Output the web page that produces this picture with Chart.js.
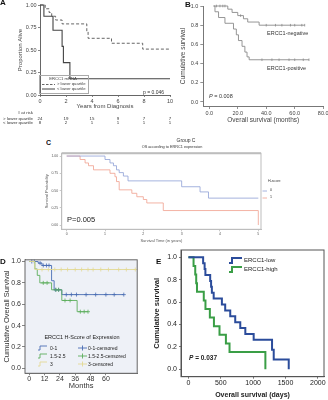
<!DOCTYPE html>
<html lang="en">
<head>
<meta charset="UTF-8"/>
<title>ERCC1 survival panels</title>
<script src="https://cdn.jsdelivr.net/npm/chart.js"></script>
<style>
  body { margin: 0; width: 328px; height: 400px; position: relative; overflow: hidden; background: #fff; font-family: 'Liberation Sans', Arial, sans-serif; color: #222; }
  canvas { position: absolute; }
  .t { position: absolute; white-space: nowrap; line-height: 1; }
  .lab { font-weight: bold; font-size: 8px; color: #111; }
  .mid { transform: translateX(-50%); }
  svg { position: absolute; overflow: visible; }
</style>
</head>
<body>
<canvas id="chartA" width="178" height="126" style="left:0;top:0"></canvas>
<canvas id="chartB" width="156" height="124" style="left:172px;top:0"></canvas>
<canvas id="chartC" width="228" height="93" style="left:40px;top:150px"></canvas>
<canvas id="chartD" width="142" height="135" style="left:0;top:255px"></canvas>
<canvas id="chartE" width="178" height="155" style="left:150px;top:245px"></canvas>

<!-- A -->
<div class="t lab" style="left:0;top:-1px">A</div>
<div class="t" style="left:143px;top:89.5px;font-size:5px;color:#333">p = 0.046</div>
<div style="position:absolute;left:39px;top:75px;width:48px;height:17px;border:1px solid #aaa"></div>
<div class="t mid" style="left:63px;top:77px;font-size:4.2px;color:#444">ERCC1 mRNA</div>
<svg style="left:0;top:0" width="1" height="1"><line x1="42" y1="84.5" x2="55" y2="84.5" stroke="#555" stroke-width="0.9" stroke-dasharray="2.5 1.5"/><line x1="42" y1="89" x2="55" y2="89" stroke="#444" stroke-width="1"/></svg>
<div class="t" style="left:57px;top:82.4px;font-size:4.2px;color:#444">&gt; lower quartile</div>
<div class="t" style="left:57px;top:86.9px;font-size:4.2px;color:#444">&lt; lower quartile</div>

<!-- B -->
<div class="t lab" style="left:185px;top:1px">B</div>
<div class="t" style="left:267px;top:30.5px;font-size:5.5px;color:#333">ERCC1-negative</div>
<div class="t" style="left:267px;top:65.5px;font-size:5.5px;color:#333">ERCC1-positive</div>
<div class="t" style="left:209px;top:94.2px;font-size:5.5px;color:#333"><i>P</i> = 0.008</div>

<!-- C -->
<div class="t lab" style="left:46px;top:138.5px;font-size:7px">C</div>
<div class="t mid" style="left:186px;top:137.5px;font-size:5px;color:#333">Group C</div>
<div class="t mid" style="left:172px;top:146px;font-size:3.8px;color:#333">OS according to ERRC1 expression</div>
<div class="t" style="left:67px;top:216px;font-size:7.5px;color:#222">P=0.005</div>
<div class="t" style="left:268px;top:180.2px;font-size:3.6px;color:#333">H-score</div>
<svg style="left:0;top:0" width="1" height="1"><line x1="262.5" y1="191" x2="267" y2="191" stroke="#8e9fd6" stroke-width="0.8"/><line x1="262.5" y1="198" x2="267" y2="198" stroke="#f0a08e" stroke-width="0.8"/></svg>
<div class="t" style="left:270px;top:189.2px;font-size:3.6px;color:#333">0</div>
<div class="t" style="left:270px;top:196.2px;font-size:3.6px;color:#333">1</div>

<!-- D -->
<div class="t lab" style="left:0;top:257.5px">D</div>
<div class="t mid" style="left:82px;top:335.2px;font-size:5.5px;color:#222">ERCC1 H-Score of Expression</div>
<svg style="left:0;top:0" width="1" height="1">
  <path d="M38 350 L40 350 L40 346 L47 346" fill="none" stroke="#4a6db3" stroke-width="0.9"/>
  <path d="M38 358 L40 358 L40 354 L47 354" fill="none" stroke="#5cae5c" stroke-width="0.9"/>
  <path d="M38 366 L40 366 L40 362 L47 362" fill="none" stroke="#e3d994" stroke-width="0.9"/>
  <path d="M78 348 L87 348 M82.5 345.5 L82.5 350.5" stroke="#4a6db3" stroke-width="0.9"/>
  <path d="M78 356 L87 356 M82.5 353.5 L82.5 358.5" stroke="#5cae5c" stroke-width="0.9"/>
  <path d="M78 364 L87 364 M82.5 361.5 L82.5 366.5" stroke="#e3d994" stroke-width="0.9"/>
</svg>
<div class="t" style="left:50px;top:345.5px;font-size:5px">0-1</div>
<div class="t" style="left:50px;top:353.5px;font-size:5px">1.5-2.5</div>
<div class="t" style="left:50px;top:361.5px;font-size:5px">3</div>
<div class="t" style="left:88px;top:345.5px;font-size:5px">0-1-censored</div>
<div class="t" style="left:88px;top:353.5px;font-size:5px">1.5-2.5-censored</div>
<div class="t" style="left:88px;top:361.5px;font-size:5px">3-censored</div>

<!-- E -->
<div class="t lab" style="left:156px;top:258px">E</div>
<svg style="left:0;top:0" width="1" height="1">
  <path d="M229 263 L232 263 L232 258 L242 258" fill="none" stroke="#2b4c9b" stroke-width="2"/>
  <path d="M229 272 L232 272 L232 267 L242 267" fill="none" stroke="#3a9e46" stroke-width="2"/>
</svg>
<div class="t" style="left:244px;top:257px;font-size:6px">ERCC1-low</div>
<div class="t" style="left:244px;top:266px;font-size:6px">ERCC1-high</div>
<div class="t" style="left:189px;top:354.7px;font-size:6.5px;font-weight:bold"><i>P</i> = 0.037</div>

<script>
// A: ERCC1 mRNA vs lower quartile (years from diagnosis)
const aTicksX = [0, 2, 4, 6, 8, 10];
const aTicksY = [0, 0.25, 0.5, 0.75, 1];
const aHighTime = [0, 0.4, 0.7, 0.9, 1.2, 1.7, 3.6, 3.7, 5.5, 7.9, 10];
const aHighSurv = [1, 0.958, 0.917, 0.875, 0.833, 0.79, 0.71, 0.63, 0.575, 0.51, 0.51];
const aLowTime = [0, 0.3, 1.0, 1.7, 1.8, 2.3, 10];
const aLowSurv = [1, 0.875, 0.72, 0.54, 0.36, 0.18, 0.18];
const aRiskHigh = [24, 19, 15, 9, 7, 7];
const aRiskLow = [8, 2, 1, 1, 1, 1];

// B: ERCC1 negative / positive (months)
const bTicksX = [0, 20, 40, 60, 80];
const bTicksY = [0, 0.2, 0.4, 0.6, 0.8, 1];
const bNegTime = [3, 13, 16, 20, 24, 27, 35, 67];
const bNegSurv = [1, 0.967, 0.933, 0.9, 0.867, 0.833, 0.8, 0.8];
const bNegCens = [5, 7.5, 9.5, 11, 22, 40, 46.5, 51, 57, 60, 65, 67];
const bPosTime = [3, 4, 6.5, 11, 17, 19, 20.5, 23, 25, 26.5, 28, 70];
const bPosSurv = [1, 0.94, 0.88, 0.82, 0.76, 0.70, 0.64, 0.58, 0.52, 0.47, 0.44, 0.44];
const bPosCens = [37, 44, 49, 56, 60, 66, 70];

// C: H-score 0 / 1 (years)
const cTicksX = [0, 1, 2, 3, 4, 5];
const cTicksY = [0, 0.25, 0.5, 0.75, 1];
const c0Time = [0, 1.0, 1.13, 1.22, 1.3, 1.37, 1.48, 1.6, 3.0, 3.48, 3.7, 5];
const c0Surv = [1, 0.95, 0.90, 0.86, 0.80, 0.76, 0.71, 0.64, 0.555, 0.48, 0.39, 0.39];
const c1Time = [0, 0.35, 0.48, 0.57, 0.7, 1.13, 1.26, 1.3, 1.37, 1.7, 1.83, 2.0, 2.09, 2.52, 5];
const c1Surv = [1, 0.95, 0.90, 0.86, 0.80, 0.75, 0.70, 0.63, 0.51, 0.46, 0.41, 0.37, 0.32, 0.21, 0];

// D: H-score groups (months)
const dTicksX = [0, 12, 24, 36, 48, 60];
const dTicksY = [0, 0.2, 0.4, 0.6, 0.8, 1];
const dLowTime = [0, 7, 10, 17.5, 19.5, 25.5, 74];
const dLowSurv = [1, 0.985, 0.963, 0.82, 0.735, 0.69, 0.69];
const dLowCens = [2, 4, 8.5, 11, 13.5, 15.5, 20.5, 23, 29, 33, 37, 44.5, 52, 60, 66.5, 74];
const dMidTime = [0, 4.4, 6.3, 8.3, 17.5, 25.5, 37.5, 46];
const dMidSurv = [1, 0.93, 0.87, 0.80, 0.735, 0.635, 0.53, 0.53];
const dMidCens = [11, 14, 21, 23, 28, 32, 40, 43, 46];
const dHighTime = [0, 4.4, 83];
const dHighSurv = [1, 0.925, 0.925];
const dHighCens = [10, 15, 20, 25, 30, 36, 41, 46, 50, 56, 62, 70, 76, 83];

// E: ERCC1 low / high (days)
const eTicksX = [0, 500, 1000, 1500, 2000];
const eTicksY = [0, 0.2, 0.4, 0.6, 0.8, 1];
const eLowTime = [0, 227, 250, 262, 336, 350, 362, 390, 517, 568, 646, 723, 801, 879, 1008, 1292, 1318, 1550];
const eLowSurv = [1, 0.947, 0.895, 0.842, 0.789, 0.737, 0.684, 0.632, 0.579, 0.526, 0.474, 0.421, 0.368, 0.316, 0.263, 0.175, 0.088, 0];
const eHighTime = [0, 79, 105, 120, 132, 237, 263, 331, 394, 480, 579, 635, 1189];
const eHighSurv = [1, 0.923, 0.846, 0.769, 0.692, 0.615, 0.538, 0.462, 0.385, 0.308, 0.231, 0.154, 0];

Chart.defaults.font.family = "'Liberation Sans', Arial, sans-serif";
Chart.defaults.animation = false;

const stepData = (times, surv) => times.map((t, i) => ({ x: t, y: surv[i] }));

function survAt(times, surv, t) {
  let s = surv[0];
  times.forEach((tt, i) => { if (tt <= t) s = surv[i]; });
  return s;
}

function curve(times, surv, color, width, dash) {
  return {
    type: 'line', data: stepData(times, surv), stepped: true,
    borderColor: color, borderWidth: width, borderDash: dash || [],
    pointRadius: 0, fill: false, clip: false
  };
}

function marks(times, surv, cens, color, style, r, rot) {
  return {
    type: 'scatter', data: cens.map(t => ({ x: t, y: survAt(times, surv, t) })),
    borderColor: color, backgroundColor: color, pointStyle: style,
    pointRadius: r, pointBorderWidth: 0.8, pointRotation: rot || 0, clip: false
  };
}

// linear axis with a fixed box size so the plot area lands where it should
function axis(o) {
  return {
    type: 'linear', min: o.min, max: o.max,
    afterBuildTicks: s => { s.ticks = o.ticks.map(v => ({ value: v })); },
    afterFit: s => {
      if (s.isHorizontal()) s.height = o.size; else s.width = o.size;
      s.paddingLeft = s.paddingRight = s.paddingTop = s.paddingBottom = 0;
    },
    border: { display: o.border !== false, color: o.line, width: 1 },
    grid: { drawOnChartArea: false, drawTicks: true, tickLength: o.tickLen, tickColor: o.line, tickWidth: 0.8 },
    ticks: {
      autoSkip: false, maxRotation: 0, padding: o.pad, color: o.color,
      font: { size: o.tickSize }, callback: o.fmt
    },
    title: {
      display: true, text: o.title, color: o.color, padding: 0,
      font: { size: o.titleSize, weight: o.bold ? 'bold' : 'normal' }
    }
  };
}

const framePlugin = {
  id: 'frame',
  beforeDatasetsDraw(chart, args, opts) {
    const { ctx, chartArea: a } = chart;
    if (!opts.fill) return;
    ctx.save();
    ctx.fillStyle = opts.fill;
    ctx.fillRect(a.left, a.top, a.width, a.height);
    ctx.restore();
  },
  afterDraw(chart, args, opts) {
    const { ctx, chartArea: a } = chart;
    if (!opts.color) return;
    ctx.save();
    ctx.strokeStyle = opts.color;
    ctx.lineWidth = opts.width || 1;
    ctx.strokeRect(a.left, a.top, a.width, a.height);
    if (opts.topWidth) {
      // the ggplot panel in C has a heavier top edge
      ctx.lineWidth = opts.topWidth;
      ctx.beginPath();
      ctx.moveTo(a.left, a.top);
      ctx.lineTo(a.right, a.top);
      ctx.stroke();
    }
    ctx.restore();
  }
};

const riskTable = {
  id: 'riskTable',
  afterDraw(chart) {
    const { ctx } = chart;
    const x = chart.scales.x;
    ctx.save();
    ctx.font = "4.4px 'Liberation Sans', Arial, sans-serif";
    ctx.fillStyle = '#333';
    ctx.textBaseline = 'middle';
    ctx.textAlign = 'right';
    ctx.fillText('# at risk', 33, 112.7);
    ctx.fillText('> lower quartile', 33, 118.3);
    ctx.fillText('< lower quartile', 33, 122.7);
    ctx.textAlign = 'center';
    aTicksX.forEach((t, i) => {
      ctx.fillText(aRiskHigh[i], x.getPixelForValue(t), 118.3);
      ctx.fillText(aRiskLow[i], x.getPixelForValue(t), 122.7);
    });
    ctx.restore();
  }
};

function base(padding, frame) {
  return {
    responsive: false, events: [],
    layout: { padding },
    plugins: { legend: { display: false }, tooltip: { enabled: false }, frame: frame || {} }
  };
}

// A
new Chart(document.getElementById('chartA'), {
  type: 'line',
  data: { datasets: [
    curve(aHighTime, aHighSurv, '#555', 0.9, [3, 2]),
    curve(aLowTime, aLowSurv, '#444', 1.1)
  ] },
  options: Object.assign(base({ left: 17, top: 5, right: 8, bottom: 16 }), {
    scales: {
      x: axis({ min: 0, max: 10, ticks: aTicksX, size: 15, tickLen: 2, pad: 1, line: '#666', color: '#444',
        tickSize: 5.5, titleSize: 6, title: 'Years from Diagnosis', fmt: v => v }),
      y: axis({ min: 0, max: 1, ticks: aTicksY, size: 23, tickLen: 2, pad: 1.5, line: '#666', color: '#444',
        tickSize: 5.5, titleSize: 6, title: 'Proportion Alive', fmt: v => v.toFixed(2) })
    }
  }),
  plugins: [riskTable]
});

// B
new Chart(document.getElementById('chartB'), {
  type: 'line',
  data: { datasets: [
    curve(bNegTime, bNegSurv, '#8a8a8a', 0.9),
    curve(bPosTime, bPosSurv, '#8a8a8a', 0.9),
    marks(bNegTime, bNegSurv, bNegCens, '#8a8a8a', 'line', 1.3, 90),
    marks(bPosTime, bPosSurv, bPosCens, '#8a8a8a', 'line', 1.3, 90)
  ] },
  options: Object.assign(base({ left: 7.1, top: 6, right: 1.5, bottom: 0 }), {
    scales: {
      x: axis({ min: -4.2, max: 80, ticks: bTicksX, size: 18, tickLen: 3, pad: 1.5, line: '#777', color: '#444',
        tickSize: 5.5, titleSize: 6.5, title: 'Overall survival (months)', fmt: v => v.toFixed(1) }),
      y: axis({ min: -0.0417, max: 1, ticks: bTicksY, size: 24.2, tickLen: 3, pad: 2, line: '#777', color: '#444',
        tickSize: 5.5, titleSize: 6.5, title: 'Cumulative survival', fmt: v => v.toFixed(1) })
    }
  })
});

// C
new Chart(document.getElementById('chartC'), {
  type: 'line',
  data: { datasets: [
    curve(c0Time, c0Surv, '#8e9fd6', 0.8),
    curve(c1Time, c1Surv, '#f0a08e', 0.8)
  ] },
  options: Object.assign(base({ left: 4.6, top: 3.3, right: 7, bottom: 0 }, { color: '#bdbdbd', width: 1, topWidth: 2 }), {
    scales: {
      x: axis({ min: -0.13, max: 5.07, ticks: cTicksX, size: 13.7, tickLen: 2, pad: 1, line: '#bdbdbd', color: '#555',
        tickSize: 3.5, titleSize: 4, title: 'Survival Time (in years)', fmt: v => v }),
      y: axis({ min: -0.062, max: 1.04, ticks: cTicksY, size: 17.1, tickLen: 2, pad: 1.5, line: '#bdbdbd', color: '#555',
        tickSize: 3.5, titleSize: 4, title: 'Survival Probability', fmt: v => v.toFixed(2) })
    }
  }),
  plugins: [framePlugin]
});

// D
new Chart(document.getElementById('chartD'), {
  type: 'line',
  data: { datasets: [
    curve(dHighTime, dHighSurv, '#e3d994', 0.9),
    curve(dMidTime, dMidSurv, '#5cae5c', 0.9),
    curve(dLowTime, dLowSurv, '#4a6db3', 0.9),
    marks(dHighTime, dHighSurv, dHighCens, '#e3d994', 'cross', 2),
    marks(dMidTime, dMidSurv, dMidCens, '#5cae5c', 'cross', 2),
    marks(dLowTime, dLowSurv, dLowCens, '#4a6db3', 'cross', 2)
  ] },
  options: Object.assign(base({ left: 2.5, top: 4.3, right: 3.7, bottom: 0 }, { color: '#666', width: 1, fill: '#eef1f7' }), {
    scales: {
      x: axis({ min: -3.3, max: 84.5, ticks: dTicksX, size: 16.7, tickLen: 2, pad: 0, line: '#666', color: '#333',
        tickSize: 7, titleSize: 7.5, title: 'Months', fmt: v => v }),
      y: axis({ min: -0.047, max: 1.016, ticks: dTicksY, size: 22.5, tickLen: 3, pad: 1, line: '#666', color: '#333',
        tickSize: 7, titleSize: 7.5, title: 'Cumulative Overall Survival', fmt: v => v.toFixed(1) })
    }
  }),
  plugins: [framePlugin]
});

// E
new Chart(document.getElementById('chartE'), {
  type: 'line',
  data: { datasets: [
    curve(eLowTime, eLowSurv, '#2b4c9b', 2),
    curve(eHighTime, eHighSurv, '#3a9e46', 2)
  ] },
  options: Object.assign(base({ left: 2.5, top: 5, right: 4, bottom: 0.8 }, { color: '#555', width: 1 }), {
    scales: {
      x: axis({ min: -115, max: 2095, ticks: eTicksX, size: 22.5, tickLen: 2, pad: 0.5, line: '#555', color: '#222',
        tickSize: 7, titleSize: 7, bold: true, title: 'Overall survival (days)', fmt: v => v }),
      y: axis({ min: -0.066, max: 1.065, ticks: eTicksY, size: 28.5, tickLen: 2, pad: 2, line: '#555', color: '#222',
        tickSize: 7, titleSize: 7.5, bold: true, title: 'Cumulative survival', fmt: v => v.toFixed(1) })
    }
  }),
  plugins: [framePlugin]
});
</script>
</body>
</html>
